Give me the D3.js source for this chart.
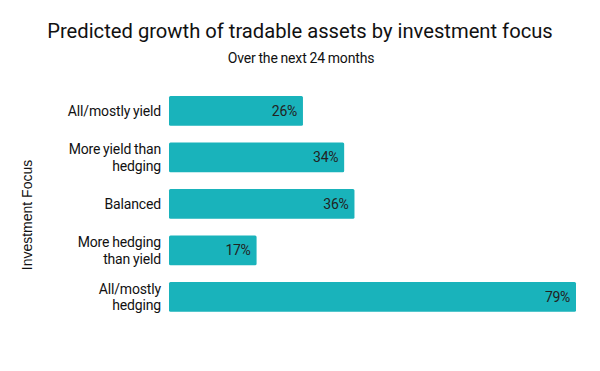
<!DOCTYPE html>
<html><head><meta charset="utf-8">
<script src="https://cdn.jsdelivr.net/npm/d3@7"></script>
<style>body{margin:0;background:#fff}svg{display:block;font-family:Roboto,sans-serif}</style>
</head><body><svg id="c" width="600" height="371"></svg>
<script>
const categories = [["All/mostly yield"],["More yield than","hedging"],["Balanced"],["More hedging","than yield"],["All/mostly","hedging"]];
const values = [26, 34, 36, 17, 79];
const valueLabels = ["26%","34%","36%","17%","79%"];

const svg = d3.select("#c");
const W = 600, H = 371;
const x = d3.scaleLinear().domain([0, 79]).range([169, 576]);
const y = d3.scaleBand().domain(d3.range(categories.length)).range([87.6, 320.2]).paddingInner(0.36).paddingOuter(0.18);
const color = "#19b3bb";

svg.append("rect").attr("width", W).attr("height", H).attr("fill", "#fff");

svg.append("text").attr("x", 300).attr("y", 38).attr("text-anchor", "middle")
  .attr("font-size", 20.2).attr("fill", "#111").text("Predicted growth of tradable assets by investment focus");
svg.append("text").attr("x", 301).attr("y", 63).attr("text-anchor", "middle")
  .attr("font-size", 14).attr("letter-spacing", -0.15).attr("word-spacing", -0.5).attr("fill", "#111").text("Over the next 24 months");

svg.append("text").attr("transform", "translate(32,215) rotate(-90)").attr("text-anchor", "middle")
  .attr("font-family", "'Liberation Sans', Arial, sans-serif")
  .attr("font-size", 14).attr("fill", "#111").text("Investment Focus");

svg.selectAll("rect.bar").data(values).join("rect").attr("class", "bar")
  .attr("x", x(0)).attr("y", (d, i) => y(i))
  .attr("width", d => x(d) - x(0)).attr("height", y.bandwidth())
  .attr("rx", 1.5).attr("fill", color);

svg.selectAll("text.val").data(values).join("text").attr("class", "val")
  .attr("x", d => x(d) - 6).attr("y", (d, i) => y(i) + y.bandwidth() / 2)
  .attr("dy", "0.35em").attr("text-anchor", "end").attr("font-size", 14)
  .attr("letter-spacing", -0.3).attr("fill", "#222")
  .text((d, i) => valueLabels[i]);

const lab = svg.selectAll("text.cat").data(categories).join("text").attr("class", "cat")
  .attr("text-anchor", "end").attr("font-size", 14).attr("letter-spacing", -0.15)
  .attr("word-spacing", -0.5).attr("fill", "#111");
lab.each(function(lines, i) {
  const cy = y(i) + y.bandwidth() / 2;
  const lh = 16.5;
  const t = d3.select(this);
  lines.forEach((ln, k) => {
    t.append("tspan").attr("x", 161)
      .attr("y", cy + (k - (lines.length - 1) / 2) * lh)
      .attr("dy", "0.35em").text(ln);
  });
});
</script></body></html>
